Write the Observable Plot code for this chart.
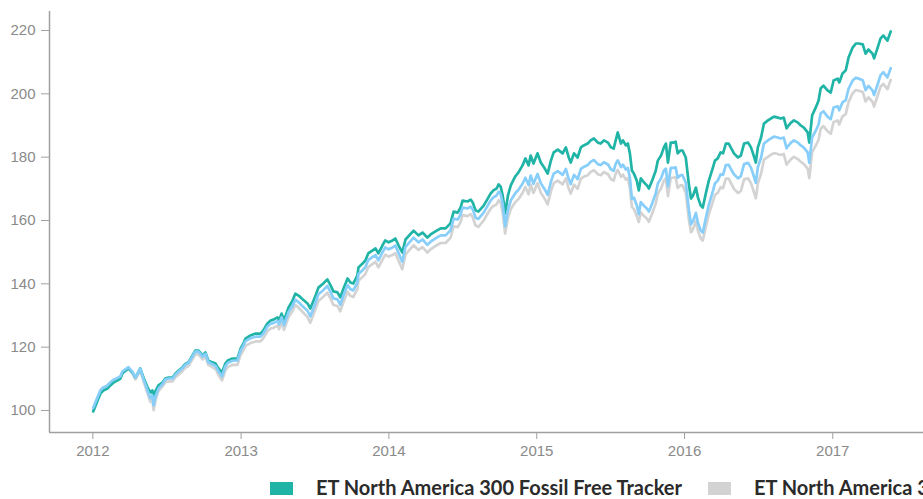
<!DOCTYPE html>
<html><head><meta charset="utf-8">
<script src="https://cdn.jsdelivr.net/npm/d3@7"></script>
<script src="https://cdn.jsdelivr.net/npm/@observablehq/plot@0.6"></script>
<style>
html,body{margin:0;padding:0;background:#fff;overflow:hidden;width:923px;height:499px;position:relative}
#chart svg{display:block}
#legend{position:absolute;left:270px;top:475px;white-space:nowrap;font-family:Lato,"Noto Sans",sans-serif;font-weight:700;font-size:20px;color:#2b2b2b;display:flex;align-items:center}
.item{display:inline-flex;align-items:center;margin-right:26px}
.sw{display:inline-block;width:23px;height:13px;margin-right:23px;margin-top:3px}
</style></head><body>
<div id="chart"></div>
<div id="legend"></div>
<script>
const seriesNames = ["ET North America 300 Fossil Free Tracker", "ET North America 300 Tracker", "S&P 500"];
const seriesColors = ["#20b4a6", "#d3d3d3", "#87cefa"];
const yTicks = [100, 120, 140, 160, 180, 200, 220];
const xTickYears = ["2012", "2013", "2014", "2015", "2016", "2017"];
const xDomain = ["2011-09-16", "2017-08-13"];
const yDomain = [93.05, 226];

const dates = [
"2012-01-02","2012-01-08","2012-01-13","2012-01-20","2012-01-27","2012-02-06","2012-02-13","2012-02-21","2012-03-02","2012-03-09",
"2012-03-14","2012-03-22","2012-03-29","2012-04-08","2012-04-15","2012-04-22","2012-04-27","2012-05-05","2012-05-15","2012-05-22",
"2012-05-27","2012-05-30","2012-06-04","2012-06-11","2012-06-21","2012-06-28","2012-07-06","2012-07-16","2012-07-23","2012-07-31",
"2012-08-09","2012-08-17","2012-08-24","2012-09-03","2012-09-10","2012-09-18","2012-09-28","2012-10-05","2012-10-12","2012-10-22",
"2012-10-30","2012-11-06","2012-11-15","2012-11-23","2012-11-29","2012-12-11","2012-12-23","2012-12-31",
"2013-01-07","2013-01-12","2013-01-24","2013-02-06","2013-02-18","2013-02-25","2013-03-07","2013-03-15","2013-03-22","2013-04-01",
"2013-04-05","2013-04-11","2013-04-17","2013-04-28","2013-05-08","2013-05-15","2013-05-23","2013-06-02","2013-06-14","2013-06-21",
"2013-07-04","2013-07-11","2013-07-23","2013-08-02","2013-08-10","2013-08-17","2013-08-27","2013-09-03","2013-09-11","2013-09-21",
"2013-09-28","2013-10-05","2013-10-15","2013-10-18","2013-10-28","2013-11-04","2013-11-11","2013-11-21","2013-11-29","2013-12-06",
"2013-12-16","2013-12-23","2013-12-31",
"2014-01-10","2014-01-17","2014-01-25","2014-02-03","2014-02-11","2014-03-03","2014-03-15","2014-03-25","2014-04-06","2014-04-14",
"2014-04-29","2014-05-09","2014-05-21","2014-06-02","2014-06-10","2014-06-20","2014-06-27","2014-07-02","2014-07-14","2014-07-22",
"2014-07-27","2014-08-03","2014-08-10","2014-08-23","2014-09-02","2014-09-09","2014-09-16","2014-09-24","2014-09-29","2014-10-04",
"2014-10-09","2014-10-15","2014-10-22","2014-10-29","2014-11-09","2014-11-17","2014-11-27","2014-12-04","2014-12-12","2014-12-17",
"2014-12-24",
"2015-01-03","2015-01-11","2015-01-21","2015-01-28","2015-02-05","2015-02-12","2015-02-22","2015-03-06","2015-03-14","2015-03-21",
"2015-03-26","2015-04-03","2015-04-12","2015-04-20","2015-04-27","2015-05-07","2015-05-14","2015-05-22","2015-06-01","2015-06-08",
"2015-06-16","2015-06-26","2015-07-03","2015-07-10","2015-07-15","2015-07-20","2015-07-28","2015-08-02","2015-08-09","2015-08-14",
"2015-08-19","2015-08-24","2015-08-29","2015-09-05","2015-09-10","2015-09-15","2015-09-23","2015-09-30","2015-10-05","2015-10-13",
"2015-10-22","2015-10-27","2015-11-04","2015-11-11","2015-11-16","2015-11-21","2015-11-28","2015-12-05","2015-12-10","2015-12-15",
"2015-12-22","2015-12-27",
"2016-01-04","2016-01-12","2016-01-17","2016-01-22","2016-01-29","2016-02-03","2016-02-10","2016-02-15","2016-02-23","2016-03-01",
"2016-03-11","2016-03-16","2016-03-23","2016-03-30","2016-04-05","2016-04-12","2016-04-19","2016-04-24","2016-05-02","2016-05-12",
"2016-05-19","2016-05-27","2016-06-06","2016-06-13","2016-06-18","2016-06-25","2016-06-30","2016-07-08","2016-07-15","2016-07-25",
"2016-08-01","2016-08-09","2016-08-18","2016-08-26","2016-09-02","2016-09-09","2016-09-12","2016-09-20","2016-09-27","2016-10-07",
"2016-10-14","2016-10-21","2016-10-31","2016-11-04","2016-11-11","2016-11-19","2016-11-27","2016-12-02","2016-12-09","2016-12-19",
"2016-12-27",
"2017-01-03","2017-01-13","2017-01-17","2017-01-25","2017-02-02","2017-02-09","2017-02-19","2017-02-27","2017-03-06","2017-03-16",
"2017-03-23","2017-03-30","2017-04-09","2017-04-13","2017-04-21","2017-04-29","2017-05-06","2017-05-16","2017-05-24"
];

const fossilFree = [
99.7,101.6,103.2,105.4,106.3,106.9,107.9,108.8,109.5,110.1,
111.7,112.6,113.3,112.0,110.4,112.0,113.3,110.4,107.3,105.7,
106.3,104.1,106.3,107.9,108.8,110.1,110.4,110.4,111.7,112.6,
113.6,114.8,115.2,117.4,118.9,118.9,117.4,118.3,115.8,115.2,
114.8,113.3,112.0,114.8,115.8,116.4,116.4,119.6,
121.2,122.7,123.7,124.3,124.3,125.3,127.5,128.4,128.7,129.4,
128.4,130.6,128.4,132.5,134.7,136.9,136.3,135.1,133.8,132.2,
136.3,138.8,140.1,141.4,139.5,137.6,137.3,135.7,138.5,141.7,
140.4,140.1,142.6,145.2,146.4,147.4,149.6,150.5,151.2,149.6,
152.1,153.7,153.1,
153.7,154.3,152.1,149.9,154.0,156.8,155.3,156.2,154.6,155.6,
156.8,157.5,157.5,159.1,162.8,162.5,164.1,166.3,166.0,166.6,
165.7,163.2,162.8,164.7,166.9,168.5,169.5,170.1,171.4,170.7,
167.9,162.2,167.9,171.1,173.9,175.2,177.4,179.6,177.4,180.5,
178.0,
181.2,178.3,176.4,174.8,178.9,181.5,182.4,181.2,183.1,179.9,
178.3,181.2,179.9,183.1,183.7,184.3,185.3,185.9,184.6,184.3,
185.3,184.6,183.1,182.7,185.3,187.8,184.3,185.3,183.7,184.3,
181.2,175.8,174.8,172.6,169.5,173.3,172.0,171.1,170.1,172.6,
175.8,178.9,180.5,183.1,184.3,178.3,184.6,184.6,184.9,181.2,
182.1,182.1,
179.9,171.1,166.9,167.9,170.4,167.3,164.7,164.1,168.8,172.6,
176.7,178.9,179.6,181.5,181.2,184.3,184.3,183.1,181.2,179.9,
180.5,184.3,184.6,183.1,181.2,178.3,183.1,186.2,190.6,191.6,
192.2,192.8,192.5,192.2,192.5,189.1,189.7,190.9,191.6,190.9,
190.0,189.4,187.8,184.6,193.2,195.4,197.9,201.7,202.6,201.1,
200.4,
204.2,204.8,203.6,206.4,207.4,211.5,214.6,215.9,215.9,215.6,
212.7,214.0,212.7,211.2,214.3,217.5,218.4,216.8,219.7
];

const northAmerica = [
100.5,102.4,103.9,106.1,106.9,107.5,108.5,109.3,109.9,110.4,
111.9,112.7,113.2,111.6,109.8,111.4,112.6,109.3,105.4,102.7,
103.6,100.1,103.3,106.1,107.6,108.9,109.2,109.2,110.5,111.4,
112.4,113.6,114.0,116.2,117.7,117.7,116.1,117.0,114.4,113.7,
113.1,111.3,109.5,112.6,113.7,114.4,114.4,117.6,
119.1,120.4,121.3,121.8,121.8,122.8,125.0,125.9,126.1,126.8,
125.7,127.9,125.5,129.4,131.4,133.3,132.5,131.1,129.5,127.7,
132.1,134.6,135.9,137.2,135.3,133.3,133.0,131.3,134.3,137.5,
136.2,135.8,138.3,141.0,142.2,143.1,145.3,146.2,146.9,145.2,
147.6,149.2,148.6,
149.1,149.7,147.3,144.6,149.3,152.2,150.7,151.6,149.9,150.9,
152.2,152.9,152.9,154.5,158.2,157.9,159.5,161.7,161.4,162.0,
161.0,158.4,158.0,160.0,162.2,163.7,164.6,165.1,166.4,165.5,
162.4,155.9,160.8,163.6,165.8,166.8,168.7,170.6,168.3,171.3,
168.7,
171.8,168.8,166.8,165.1,169.2,171.8,172.6,171.4,173.3,170.1,
168.5,171.3,170.0,173.2,173.8,174.3,175.3,175.9,174.6,174.3,
175.3,174.6,173.1,172.6,174.8,176.0,173.8,174.5,172.9,173.4,
170.3,164.3,163.6,161.4,159.5,162.6,161.4,160.6,159.6,162.2,
165.4,168.5,170.1,172.6,173.3,167.7,173.5,173.5,173.7,170.3,
171.1,171.1,
168.8,160.0,156.3,157.3,159.8,156.8,154.3,153.7,158.3,162.0,
166.0,168.1,168.7,170.5,170.2,173.2,173.2,172.0,170.0,168.7,
169.3,173.0,173.3,171.8,169.9,167.0,171.7,174.8,179.2,180.1,
180.7,181.3,181.0,180.7,181.0,177.6,178.2,179.4,180.1,179.4,
178.5,177.9,176.4,173.4,181.6,183.4,185.5,189.0,189.8,188.2,
187.4,
191.1,191.6,190.3,192.9,193.6,197.4,200.2,201.2,201.0,200.6,
197.6,198.9,197.5,196.0,199.1,202.3,203.1,201.5,204.4
];

const benchmark = [
100.9,102.8,104.3,106.5,107.3,107.9,108.9,109.7,110.3,110.8,
112.3,113.1,113.7,112.2,110.4,112.0,113.2,110.0,106.3,103.9,
104.8,101.6,104.5,106.9,108.3,109.8,110.1,110.1,111.4,112.3,
113.3,114.5,114.9,117.1,118.6,118.6,117.0,117.9,115.3,114.6,
114.1,112.4,110.8,113.9,115.0,115.7,115.8,119.0,
120.5,121.9,122.8,123.3,123.3,124.3,126.5,127.4,127.6,128.3,
127.2,129.4,127.0,131.0,133.0,135.0,134.2,132.9,131.5,129.7,
134.1,136.7,138.0,139.3,137.4,135.4,135.1,133.4,136.4,139.6,
138.3,137.9,140.4,143.1,144.3,145.3,147.5,148.4,149.1,147.4,
149.9,151.5,150.9,
151.5,152.1,149.7,147.0,151.7,154.6,153.1,154.0,152.3,153.3,
154.6,155.3,155.3,156.9,160.6,160.3,161.9,164.1,163.8,164.4,
163.5,160.9,160.5,162.5,164.7,166.3,167.3,167.9,169.1,168.3,
165.2,158.2,163.4,166.3,168.6,169.7,171.6,173.5,171.2,174.2,
171.6,
174.7,171.8,169.8,168.1,172.2,174.8,175.6,174.4,176.3,173.1,
171.5,174.4,173.1,176.3,176.9,177.5,178.5,179.1,177.8,177.5,
178.4,177.7,176.2,175.7,177.9,179.0,176.9,177.6,176.1,176.6,
173.6,166.8,167.2,164.8,162.0,165.8,164.6,163.8,162.8,165.4,
168.6,171.7,173.3,175.8,176.4,170.8,176.6,176.6,176.8,173.5,
174.3,174.3,
172.0,163.1,158.8,159.8,162.4,159.3,156.8,156.2,161.0,165.0,
169.3,171.7,172.6,174.6,174.4,177.5,177.6,176.4,174.6,173.3,
174.0,177.8,178.2,176.7,174.8,171.9,176.8,179.9,184.3,185.3,
185.9,186.5,186.2,185.9,186.2,182.8,183.4,184.6,185.3,184.6,
183.7,183.1,181.5,178.2,186.3,188.1,190.3,193.8,194.5,192.8,
192.0,
195.7,196.1,194.8,197.3,198.0,201.6,204.2,205.1,204.8,204.3,
201.2,202.5,201.1,199.6,202.7,205.9,206.8,205.2,208.1
];

const parse = d3.utcParse("%Y-%m-%d");
const toRows = vals => dates.map((d, i) => ({date: parse(d), value: vals[i]}));
const rowsFF = toRows(fossilFree);
const rowsNA = toRows(northAmerica);
const rowsBM = toRows(benchmark);

const chart = Plot.plot({
  width: 923,
  height: 466,
  marginLeft: 49,
  marginRight: 0,
  marginTop: 11,
  marginBottom: 34,
  x: {type: "utc", domain: xDomain.map(parse)},
  y: {domain: yDomain},
  style: {fontFamily: "'Liberation Sans', Arial, sans-serif", fontSize: "15px", color: "#8a8a8a", background: "#fff", overflow: "visible"},
  marks: [
    Plot.axisY({ticks: yTicks, tickSize: 8, tickPadding: 6, label: null, stroke: "#a0a0a0"}),
    Plot.axisX({ticks: xTickYears.map(y => parse(y + "-01-01")), tickFormat: d3.utcFormat("%Y"), tickSize: 7, tickPadding: 6, label: null, stroke: "#a0a0a0"}),
    Plot.ruleY([yDomain[0]], {stroke: "#a0a0a0", strokeWidth: 1.5}),
    Plot.ruleX([parse(xDomain[0])], {stroke: "#a0a0a0", strokeWidth: 1.5}),
    Plot.line(rowsNA, {x: "date", y: "value", stroke: seriesColors[1], strokeWidth: 2.7}),
    Plot.line(rowsFF, {x: "date", y: "value", stroke: seriesColors[0], strokeWidth: 2.7}),
    Plot.line(rowsBM, {x: "date", y: "value", stroke: seriesColors[2], strokeWidth: 2.7})
  ]
});
document.getElementById("chart").appendChild(chart);

const legend = document.getElementById("legend");
seriesNames.forEach((name, i) => {
  const item = document.createElement("span");
  item.className = "item";
  const sw = document.createElement("span");
  sw.className = "sw";
  sw.style.background = seriesColors[i];
  item.appendChild(sw);
  item.appendChild(document.createTextNode(name));
  legend.appendChild(item);
});
</script>
</body></html>
